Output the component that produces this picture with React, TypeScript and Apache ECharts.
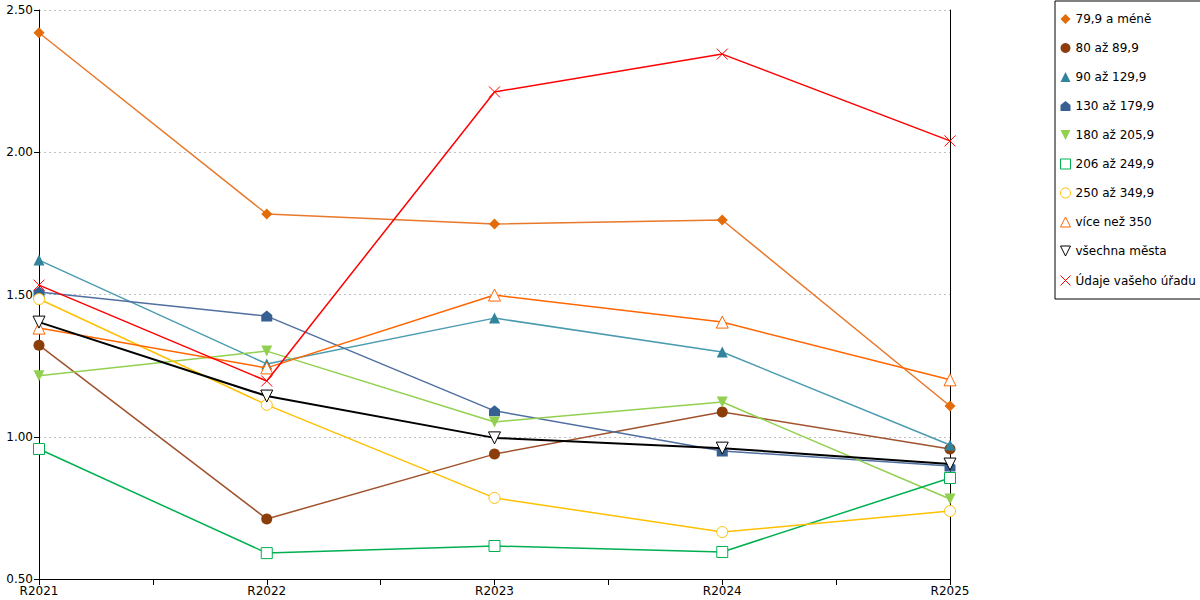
import React, { useEffect, useRef } from "react";
import * as echarts from "echarts";

const categories = ["R2021", "R2022", "R2023", "R2024", "R2025"];

const seriesNames = [
  "79,9 a méně",
  "80 až 89,9",
  "90 až 129,9",
  "130 až 179,9",
  "180 až 205,9",
  "206 až 249,9",
  "250 až 349,9",
  "více než 350",
  "všechna města",
  "Údaje vašeho úřadu",
];

const under80 = [2.42, 1.783, 1.748, 1.762, 1.108];
const from80 = [1.322, 0.711, 0.939, 1.087, 0.957];
const from90 = [1.621, 1.256, 1.417, 1.298, 0.971];
const from130 = [1.509, 1.424, 1.091, 0.95, 0.897];
const from180 = [1.214, 1.301, 1.052, 1.122, 0.781];
const from206 = [0.957, 0.591, 0.616, 0.595, 0.855];
const from250 = [1.484, 1.112, 0.785, 0.665, 0.739];
const over350 = [1.382, 1.242, 1.498, 1.403, 1.2];
const allCities = [1.403, 1.143, 0.996, 0.96, 0.904];
const yourOffice = [1.533, 1.196, 2.212, 2.345, 2.04];

const yTicks = ["0.50", "1.00", "1.50", "2.00", "2.50"];

const FONT = "DejaVu Sans";
const downTri = "path://M0,0L10,0L5,10Z";
const house = "path://M5,0L10,4L10,10L0,10L0,4Z";
const cross = "path://M0,0L10,10M10,0L0,10";

export default function App() {
  const chartRef = useRef<HTMLDivElement>(null);

  useEffect(() => {
    if (!chartRef.current) return;
    const chart = echarts.init(chartRef.current, null, { renderer: "svg" });

    const toPoints = (vals: number[]) => vals.map((v, i) => [i, v]);

    // marker / line look per series (hollow = white fill, thin coloured border)
    const styles = [
      { color: "#E36C09", line: "#E8782A", symbol: "diamond", size: 11, rotate: 0, icon: "diamond", width: 1.5, hollow: false },
      { color: "#8B3E0A", line: "#A0522D", symbol: "circle", size: 11, rotate: 0, icon: "circle", width: 1.5, hollow: false },
      { color: "#31849B", line: "#4A9BB0", symbol: "triangle", size: 11, rotate: 0, icon: "triangle", width: 1.5, hollow: false },
      { color: "#366092", line: "#4F6FA0", symbol: house, size: 11, rotate: 0, icon: house, width: 1.5, hollow: false },
      { color: "#92D050", line: "#92D050", symbol: "triangle", size: 11, rotate: 180, icon: downTri, width: 1.5, hollow: false },
      { color: "#00B050", line: "#00B050", symbol: "rect", size: 11, rotate: 0, icon: "rect", width: 1.5, hollow: true },
      { color: "#FFC000", line: "#FFC000", symbol: "circle", size: 11, rotate: 0, icon: "circle", width: 1.5, hollow: true },
      { color: "#FF6600", line: "#FF6600", symbol: "triangle", size: 12, rotate: 0, icon: "triangle", width: 1.5, hollow: true },
      { color: "#000000", line: "#000000", symbol: "triangle", size: 12, rotate: 180, icon: downTri, width: 2, hollow: true },
      { color: "#FF0000", line: "#FF0000", symbol: cross, size: 11, rotate: 0, icon: cross, width: 1.5, hollow: false },
    ];

    const values = [under80, from80, from90, from130, from180, from206, from250, over350, allCities, yourOffice];

    const series = seriesNames.map((name, idx) => {
      const s = styles[idx];
      let itemStyle: any = { color: s.color };
      if (s.hollow) itemStyle = { color: "#ffffff", borderColor: s.color, borderWidth: 1 };
      if (idx === 9) itemStyle = { color: "none", borderColor: s.color, borderWidth: 1 };
      return {
        name,
        type: "line",
        data: toPoints(values[idx]),
        symbol: s.symbol,
        symbolSize: s.size,
        symbolRotate: s.rotate,
        lineStyle: { color: s.line, width: s.width },
        itemStyle,
        z: 2 + idx,
      };
    });

    const legendData = seriesNames.map((name, idx) => {
      const s = styles[idx];
      let itemStyle: any = { color: s.color, borderWidth: 0 };
      if (s.hollow) itemStyle = { color: "#ffffff", borderColor: s.color, borderWidth: 1 };
      if (idx === 9) itemStyle = { color: "none", borderColor: "#FF0000", borderWidth: 1 };
      return { name, icon: s.icon, itemStyle };
    });

    const option: any = {
      animation: false,
      backgroundColor: "#ffffff",
      textStyle: { fontFamily: FONT },
      grid: { left: 39, right: 250, top: 10, bottom: 21 },
      legend: {
        orient: "vertical",
        left: 1055,
        top: 1,
        data: legendData,
        itemWidth: 10,
        itemHeight: 10,
        itemGap: 15,
        padding: [11, 6, 11, 3],
        borderColor: "#000",
        borderWidth: 1,
        textStyle: { fontFamily: FONT, fontSize: 12, color: "#000", lineHeight: 14 },
      },
      xAxis: {
        type: "value",
        min: 0,
        max: categories.length - 1,
        interval: 0.5,
        axisLine: { show: true, lineStyle: { color: "#000", width: 1 } },
        axisTick: { show: true, length: 6, lineStyle: { color: "#000" } },
        axisLabel: {
          color: "#000",
          fontFamily: FONT,
          fontSize: 12,
          margin: 6,
          formatter: (v: number) => (Number.isInteger(v) ? categories[v] : ""),
        },
        splitLine: { show: false },
      },
      yAxis: [
        {
          type: "value",
          min: 0.5,
          max: 2.5,
          interval: 0.5,
          axisLine: { show: true, lineStyle: { color: "#000", width: 1 } },
          axisTick: { show: true, length: 5, lineStyle: { color: "#000" } },
          axisLabel: {
            color: "#000",
            fontFamily: FONT,
            fontSize: 12,
            margin: 6,
            formatter: (v: number) => yTicks[Math.round((v - 0.5) / 0.5)] ?? v.toFixed(2),
          },
          splitLine: { show: true, lineStyle: { color: "#c0c0c0", type: [2, 3], width: 1 } },
        },
        {
          type: "value",
          position: "right",
          min: 0.5,
          max: 2.5,
          interval: 0.5,
          axisLine: { show: true, lineStyle: { color: "#000", width: 1 } },
          axisTick: { show: false },
          axisLabel: { show: false },
          splitLine: { show: false },
        },
      ],
      series,
    };

    chart.setOption(option);
    return () => chart.dispose();
  }, []);

  return (
    <div
      ref={chartRef}
      style={{ position: "absolute", left: 0, top: 0, width: 1200, height: 600 }}
    />
  );
}
